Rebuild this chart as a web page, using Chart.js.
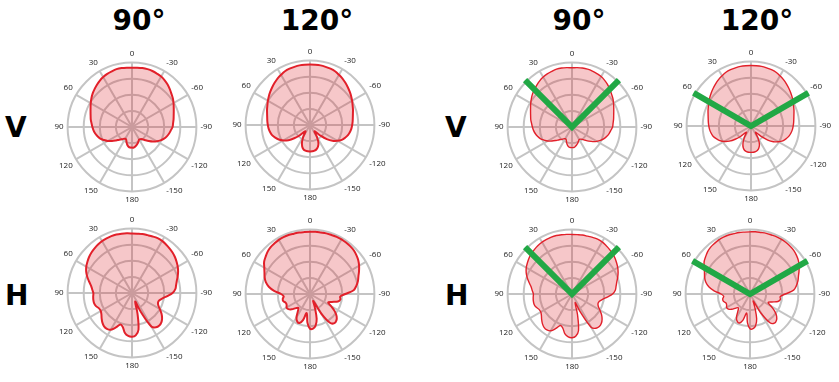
<!DOCTYPE html>
<html>
<head>
<meta charset="utf-8">
<script src="https://cdn.jsdelivr.net/npm/chart.js@4.4.1/dist/chart.umd.min.js"></script>
<style>
  html, body { margin: 0; padding: 0; background: #fff; }
  body { width: 839px; height: 382px; position: relative; overflow: hidden; font-family: 'DejaVu Sans', Verdana, sans-serif; }
  .lbl { position: absolute; font-weight: bold; font-size: 28px; line-height: 28px; color: #000; }
  .title { width: 100px; text-align: center; }
  canvas { position: absolute; }
</style>
</head>
<body>
<div class="lbl title" style="left:89px; top:7px">90°</div>
<div class="lbl title" style="left:267px; top:7px">120°</div>
<div class="lbl title" style="left:529px; top:7px">90°</div>
<div class="lbl title" style="left:707px; top:7px">120°</div>
<div class="lbl" style="left:5px; top:114px">V</div>
<div class="lbl" style="left:5px; top:282px">H</div>
<div class="lbl" style="left:445px; top:114px">V</div>
<div class="lbl" style="left:445px; top:282px">H</div>

<canvas id="v90a" width="200" height="156" style="left:32px; top:49px"></canvas>
<canvas id="v120a" width="200" height="156" style="left:210px; top:47px"></canvas>
<canvas id="h90a" width="200" height="156" style="left:32px; top:215px"></canvas>
<canvas id="h120a" width="200" height="156" style="left:210px; top:216px"></canvas>
<canvas id="v90b" width="200" height="156" style="left:472px; top:49px"></canvas>
<canvas id="v120b" width="200" height="156" style="left:651px; top:48px"></canvas>
<canvas id="h90b" width="200" height="156" style="left:472px; top:216px"></canvas>
<canvas id="h120b" width="200" height="156" style="left:650px; top:216px"></canvas>

<script>
// angle of each sample, clockwise from the top (0, -5, ... -175, 180, 175 ... 5)
const angles = Array.from({ length: 72 }, (_, i) => (i === 36 ? 180 : ((540 - 5 * i) % 360) - 180));
const shownTicks = [0, -30, -60, -90, -120, -150, 180, 150, 120, 90, 60, 30];

// radius in % of the outer ring, same order as angles
const v90 = [
  92, 92.5, 93, 93, 92.5, 91.5, 90.5, 88.5, 86, 83,
  80, 77.5, 74.5, 71.5, 69, 67, 65.5, 64, 63,
  60.5, 58.5, 56, 53, 49, 44.5, 39.5, 34, 29,
  25, 23, 22.5, 24, 26.5, 28.5, 30.5, 32,
  32,
  32, 31, 28.5, 25, 21.5, 21, 22.5, 25, 28,
  32.5, 38, 43.5, 48, 52.5, 55.5, 58, 60, 61.5,
  63, 65, 66.5, 68.5, 71, 74, 77, 80, 82.5,
  85, 87.5, 89.5, 91, 92, 93, 93, 92.5
];
const v120 = [
  94, 94, 94, 93.5, 93, 92, 90, 88, 85.5, 83,
  80.5, 78, 75.5, 73, 71, 69, 67.5, 66.5, 65.5,
  64.5, 63, 61, 58, 54.5, 49, 42.5, 34, 24,
  15, 12, 22, 31, 36, 39, 40.5, 41,
  41,
  41, 40.5, 39, 35.5, 29.5, 21, 12, 14, 23,
  32, 41, 48, 53.5, 57.5, 61, 63, 64.5, 65.5,
  66.5, 67.5, 69, 71, 73, 75.5, 78, 80.5, 83,
  85.5, 88, 90, 92, 93, 93.5, 94, 94
];
const h90 = [
  92.5, 92.5, 93, 93, 93.5, 94, 93.5, 92, 90.5, 89,
  87, 84.5, 82, 79, 75.5, 72, 69.5, 67.5, 63,
  55, 48, 44, 43, 45, 50, 56, 61, 64.5,
  66, 65, 60, 32, 14, 33, 58, 66,
  68,
  67, 63, 55, 52, 59, 66, 68, 67.5, 65,
  61.5, 58, 56, 56.5, 59.5, 61, 61, 60.5, 60,
  62, 64.5, 69, 74, 78.5, 82, 84.5, 87, 89,
  90.5, 92, 93, 93.5, 94, 94, 93.5, 93
];
const h120 = [
  96.5, 97, 97, 97.5, 97.5, 98, 98, 97.5, 97, 96,
  94, 91.5, 88, 84, 80, 77, 73, 68, 55,
  47, 48, 45, 36, 31, 38, 47, 54, 58,
  59, 55, 35, 12, 22, 40, 50, 54,
  54,
  45, 30, 42, 48, 47, 42, 33, 28, 31,
  37, 41, 42, 40, 40, 43, 43, 41, 45,
  56, 65, 71, 75, 78, 82, 87, 90, 93,
  95, 96, 97, 97.5, 97.5, 97, 97, 96.5
];

// beam edges drawn in green on the right-hand set
const beam90 = [45, -45];
const beam120 = [60, -60];
const beamReach = 103;

const gridColor = '#c4c4c4';

function drawPattern(id, gains, beams, lineWidth) {
  const datasets = [];
  if (beams) {
    datasets.push({
      data: angles.map(a => (beams.includes(a) ? beamReach : 0)),
      borderColor: '#21a845',
      borderWidth: 6,
      fill: false,
      tension: 0,
      pointRadius: 0,
      clip: false,
      order: 0
    });
  }
  datasets.push({
    data: gains,
    borderColor: '#e2202a',
    backgroundColor: 'rgba(220, 30, 40, 0.25)',
    borderWidth: lineWidth,
    fill: true,
    tension: 0.35,
    pointRadius: 0,
    order: 1
  });

  new Chart(document.getElementById(id), {
    type: 'radar',
    data: { labels: angles, datasets: datasets },
    options: {
      responsive: false,
      animation: false,
      events: [],
      plugins: { legend: { display: false }, tooltip: { enabled: false } },
      scales: {
        r: {
          min: 0,
          max: 100,
          ticks: { display: false, stepSize: 25 },
          grid: { circular: true, color: gridColor, lineWidth: 2 },
          angleLines: {
            color: gridColor,
            lineWidth: ctx => (shownTicks.includes(angles[ctx.index]) ? 2 : 0)
          },
          pointLabels: {
            padding: 4,
            color: '#222',
            font: { family: 'Open Sans', size: 8 },
            callback: label => (shownTicks.includes(label) ? String(label) : '')
          }
        }
      }
    }
  });
}

drawPattern('v90a', v90, null, 2);
drawPattern('v120a', v120, null, 2);
drawPattern('h90a', h90, null, 2);
drawPattern('h120a', h120, null, 2);
drawPattern('v90b', v90, beam90, 1.4);
drawPattern('v120b', v120, beam120, 1.4);
drawPattern('h90b', h90, beam90, 1.4);
drawPattern('h120b', h120, beam120, 1.4);
</script>
</body>
</html>
